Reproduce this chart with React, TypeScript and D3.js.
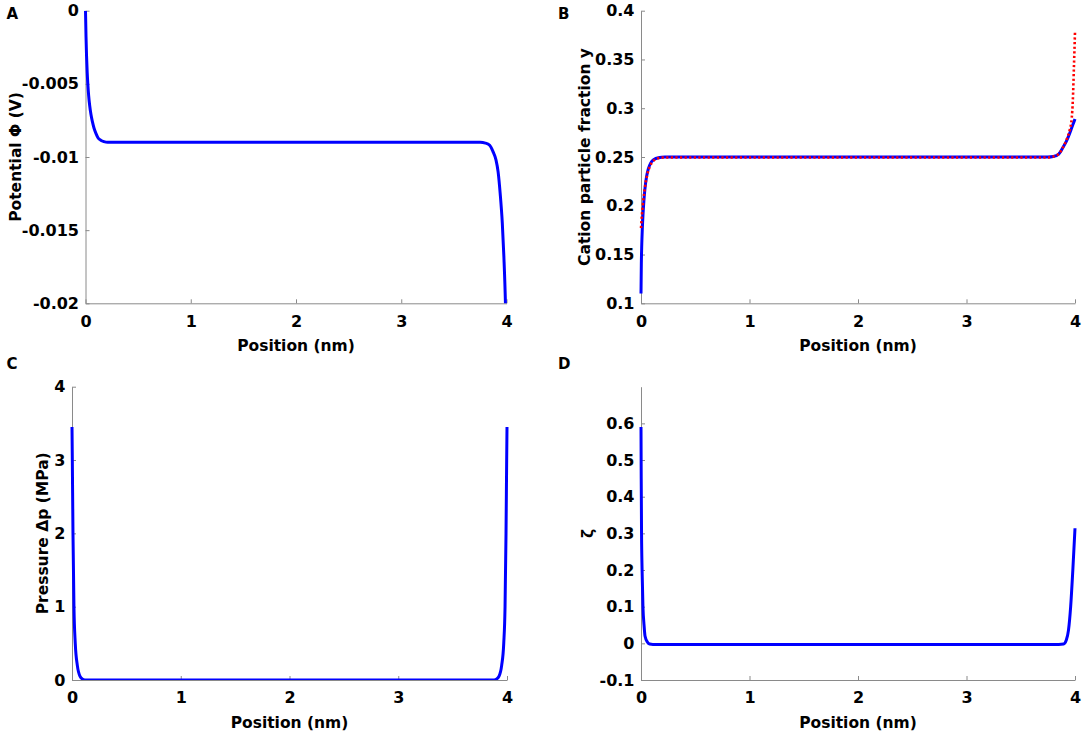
// @ts-nocheck
import React, { useEffect, useRef } from 'react';
import * as d3 from 'd3';

// eje x comun
const positionTicks = [0, 1, 2, 3, 4];

// A: potencial
const potentialTicks = [0, -0.005, -0.01, -0.015, -0.02];
const potentialX = [0, 0.005, 0.01, 0.016, 0.022, 0.03, 0.04, 0.052, 0.066, 0.082, 0.1, 0.12, 0.145, 0.175, 0.21, 0.26, 1, 2, 3, 3.75, 3.8, 3.84, 3.87, 3.9, 3.92, 3.94, 3.96, 3.975, 3.99, 4];
const potentialY = [0, -0.0018, -0.0031, -0.0042, -0.005, -0.0058, -0.0065, -0.0071, -0.0076, -0.00805, -0.0084, -0.0087, -0.00885, -0.00895, -0.009, -0.009, -0.009, -0.009, -0.009, -0.009, -0.00905, -0.0092, -0.0096, -0.0102, -0.011, -0.0125, -0.0145, -0.0168, -0.02, -0.0235];

// B: fraccion de cationes
const fractionTicks = [0.1, 0.15, 0.2, 0.25, 0.3, 0.35, 0.4];
const fractionX = [0, 0.003, 0.007, 0.012, 0.018, 0.026, 0.036, 0.05, 0.068, 0.09, 0.12, 0.16, 0.22, 1, 2, 3, 3.75, 3.8, 3.85, 3.89, 3.92, 3.95, 3.97, 3.99, 4];
const fractionY = [0.11, 0.14, 0.16, 0.176, 0.19, 0.204, 0.217, 0.229, 0.238, 0.244, 0.2475, 0.2493, 0.25, 0.25, 0.25, 0.25, 0.25, 0.2505, 0.253, 0.26, 0.266, 0.274, 0.28, 0.286, 0.289];
const fractionRefX = [0, 0.008, 0.017, 0.028, 0.042, 0.06, 0.082, 0.11, 0.15, 0.21, 1, 2, 3, 3.75, 3.8, 3.85, 3.89, 3.93, 3.95, 3.97, 3.98, 3.99, 4];
const fractionRefY = [0.177, 0.19, 0.201, 0.212, 0.223, 0.233, 0.2405, 0.2455, 0.2485, 0.2495, 0.2495, 0.2495, 0.2495, 0.2495, 0.2505, 0.253, 0.26, 0.27, 0.277, 0.29, 0.308, 0.342, 0.378];

// C: presion
const pressureTicks = [0, 1, 2, 3, 4];
const pressureX = [0, 0.003, 0.009, 0.018, 0.03, 0.049, 0.074, 0.1, 0.13, 1, 2, 3, 3.87, 3.9, 3.926, 3.951, 3.97, 3.982, 3.991, 3.997, 4];
const pressureY = [3.45, 3.0, 2.0, 1.0, 0.5, 0.2, 0.05, 0.01, 0, 0, 0, 0, 0, 0.01, 0.05, 0.2, 0.5, 1.0, 2.0, 3.0, 3.45];

// D: zeta
const zetaTicks = [-0.1, 0, 0.1, 0.2, 0.3, 0.4, 0.5, 0.6];
const zetaX = [0, 0.002, 0.005, 0.01, 0.018, 0.028, 0.037, 0.06, 0.08, 0.11, 1, 2, 3, 3.85, 3.895, 3.92, 3.94, 3.96, 3.98, 4];
const zetaY = [0.59, 0.45, 0.3, 0.2, 0.1, 0.05, 0.02, 0.003, -0.002, -0.003, -0.003, -0.003, -0.003, -0.003, -0.002, 0.009, 0.036, 0.1, 0.2, 0.314];

const FONT = '"DejaVu Sans", sans-serif';
const AXIS_COLOR = '#8a8a8a';

const App: React.FC = () => {
  const chartRef = useRef<SVGSVGElement | null>(null);

  useEffect(() => {
    const svg = d3.select(chartRef.current);
    svg.selectAll('*').remove();

    const panels = [
      {
        id: 'A', box: [85.5, 506.5, 10.7, 303.3], yDomain: [-0.02, 0], yTicks: potentialTicks,
        yLabel: 'Potential Φ (V)', yLabelX: 21, letter: [6.5, 18.5],
        series: [{ x: potentialX, y: potentialY, color: '#0000ff', dash: null }],
      },
      {
        id: 'B', box: [641, 1075, 10.7, 303.3], yDomain: [0.1, 0.4], yTicks: fractionTicks,
        yLabel: 'Cation particle fraction y', yLabelX: 590, letter: [558, 18.5],
        series: [
          { x: fractionX, y: fractionY, color: '#0000ff', dash: null },
          { x: fractionRefX, y: fractionRefY, color: '#ff0000', dash: '2.2,2.4' },
        ],
      },
      {
        id: 'C', box: [72, 507, 386.7, 680], yDomain: [0, 4], yTicks: pressureTicks,
        yLabel: 'Pressure Δp (MPa)', yLabelX: 47.5, letter: [6.5, 369],
        series: [{ x: pressureX, y: pressureY, color: '#0000ff', dash: null }],
      },
      {
        id: 'D', box: [641, 1075, 386.7, 680], yDomain: [-0.1, 0.7], yTicks: zetaTicks,
        yLabel: 'ζ', yLabelX: 593, letter: [558, 369],
        series: [{ x: zetaX, y: zetaY, color: '#0000ff', dash: null }],
      },
    ];

    panels.forEach((p) => {
      const [left, right, top, bottom] = p.box;
      const x = d3.scaleLinear().domain([0, 4]).range([left, right]);
      const y = d3.scaleLinear().domain(p.yDomain).range([bottom, top]);

      // recorte del area de trazado
      svg.append('clipPath')
        .attr('id', `clip-${p.id}`)
        .append('rect')
        .attr('x', left - 3)
        .attr('y', top)
        .attr('width', right - left + 6)
        .attr('height', bottom - top);

      const xAxis = svg.append('g')
        .attr('transform', `translate(0,${bottom})`)
        .call(d3.axisBottom(x).tickValues(positionTicks).tickSizeInner(-4).tickSizeOuter(0).tickPadding(12).tickFormat(d3.format('d')));

      const yAxis = svg.append('g')
        .attr('transform', `translate(${left},0)`)
        .call(d3.axisLeft(y).tickValues(p.yTicks).tickSizeInner(-4).tickSizeOuter(0).tickPadding(6.5).tickFormat((d) => `${+d.toFixed(3)}`));

      [xAxis, yAxis].forEach((g) => {
        g.selectAll('path, line').attr('stroke', AXIS_COLOR).attr('stroke-width', 1);
        g.selectAll('text')
          .attr('fill', '#000')
          .style('font-family', FONT)
          .style('font-weight', 'bold')
          .style('font-size', '16px');
      });

      const line = d3.line()
        .x((d) => x(d[0]))
        .y((d) => y(d[1]))
        .curve(d3.curveMonotoneX);

      p.series.forEach((s) => {
        const pts = s.x.map((v, i) => [v, s.y[i]]);
        svg.append('path')
          .datum(pts)
          .attr('clip-path', `url(#clip-${p.id})`)
          .attr('fill', 'none')
          .attr('stroke', s.color)
          .attr('stroke-width', s.dash ? 2.6 : 3)
          .attr('stroke-dasharray', s.dash)
          .attr('d', line);
      });

      // etiquetas de los ejes
      svg.append('text')
        .attr('x', (left + right) / 2)
        .attr('y', bottom + 47.5)
        .attr('text-anchor', 'middle')
        .style('font-family', FONT)
        .style('font-weight', 'bold')
        .style('font-size', '15.5px')
        .text('Position (nm)');

      svg.append('text')
        .attr('transform', `translate(${p.yLabelX},${(top + bottom) / 2}) rotate(-90)`)
        .attr('text-anchor', 'middle')
        .style('font-family', FONT)
        .style('font-weight', 'bold')
        .style('font-size', '15.5px')
        .text(p.yLabel);

      svg.append('text')
        .attr('x', p.letter[0])
        .attr('y', p.letter[1])
        .style('font-family', FONT)
        .style('font-weight', 'bold')
        .style('font-size', '15px')
        .text(p.id);
    });
  }, []);

  return (
    <svg
      ref={chartRef}
      width={1084}
      height={736}
      style={{ position: 'absolute', left: 0, top: 0, background: '#fff' }}
    ></svg>
  );
};

export default App;
